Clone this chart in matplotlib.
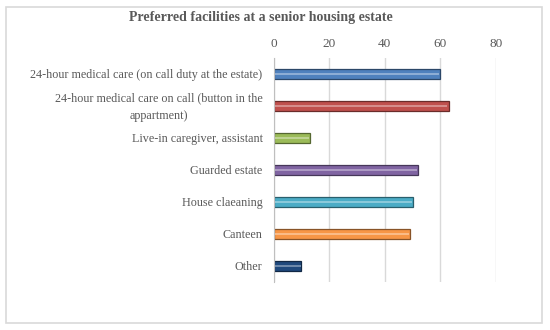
import matplotlib
matplotlib.use("Agg")
import matplotlib.pyplot as plt
import matplotlib.transforms as mtransforms
from matplotlib.patches import FancyBboxPatch
import matplotlib.colors as mcolors

categories = [
    "24-hour medical care (on call duty at the estate)",
    "24-hour medical care on call (button in the\nappartment)",
    "Live-in caregiver, assistant",
    "Guarded estate",
    "House claeaning",
    "Canteen",
    "Other",
]
values = [60, 63, 13, 52, 50, 49, 10]
colors = ["#4F81BD", "#C0504D", "#9BBB59", "#8064A2", "#4BACC6", "#F79646", "#1F497D"]
xticks = [0, 20, 40, 60, 80]
title = "Preferred facilities at a senior housing estate"

plt.rcParams['font.family'] = ['Liberation Serif', 'DejaVu Serif']
text_color = "#595959"

fig = plt.figure(figsize=(5.5, 3.3), dpi=100)
# outer border
fig.patches.append(FancyBboxPatch((6/550, 7/330), 536/550, 316/330,
                                  boxstyle="square,pad=0", transform=fig.transFigure,
                                  fill=False, edgecolor="#D9D9D9", linewidth=1.2))

ax = fig.add_axes([273.5/550, 1 - 282/330, (496 - 273.5)/550, 224/330])
ypos = list(range(len(categories)))

def shade(c, f):
    r, g, b = mcolors.to_rgb(c)
    if f > 0:
        return (r + (1 - r) * f, g + (1 - g) * f, b + (1 - b) * f)
    return (r * (1 + f), g * (1 + f), b * (1 + f))

dark = [shade(c, -0.45) for c in colors]
light = [shade(c, 0.35) for c in colors]
ax.barh(ypos, values, height=0.32, color=colors, edgecolor=dark, linewidth=0.9, zorder=3)
ax.barh(ypos, [v * 0.985 for v in values], height=0.08, left=[v * 0.0075 for v in values],
        color=light, linewidth=0, zorder=4)

ax.set_xlim(0, 80)
ax.set_ylim(len(categories) - 0.5, -0.5)
ax.set_yticks(ypos)
ax.set_yticklabels([])
ax.set_xticks(xticks)
ax.xaxis.tick_top()
ax.tick_params(axis='both', length=0, colors=text_color)
ax.tick_params(axis='x', pad=6, labelsize=9.5)
ax.grid(axis='x', color="#D9D9D9", linewidth=1, zorder=0)
for s in ['top', 'right', 'bottom']:
    ax.spines[s].set_visible(False)
ax.spines['left'].set_color("#BFBFBF")
ax.spines['left'].set_zorder(5)

trans = mtransforms.offset_copy(ax.get_yaxis_transform(), fig=fig, x=-11, y=-1, units='dots')
for y, lab in zip(ypos, categories):
    ax.text(0, y, lab, transform=trans,
            ha='right', va='center', multialignment='center', linespacing=1.6,
            fontsize=8.7, color=text_color)

fig.text(261/550, 1 - 18/330, title, ha='center', va='center', fontsize=10,
         fontweight='bold', color=text_color)

fig.savefig("out.png", dpi=100)
